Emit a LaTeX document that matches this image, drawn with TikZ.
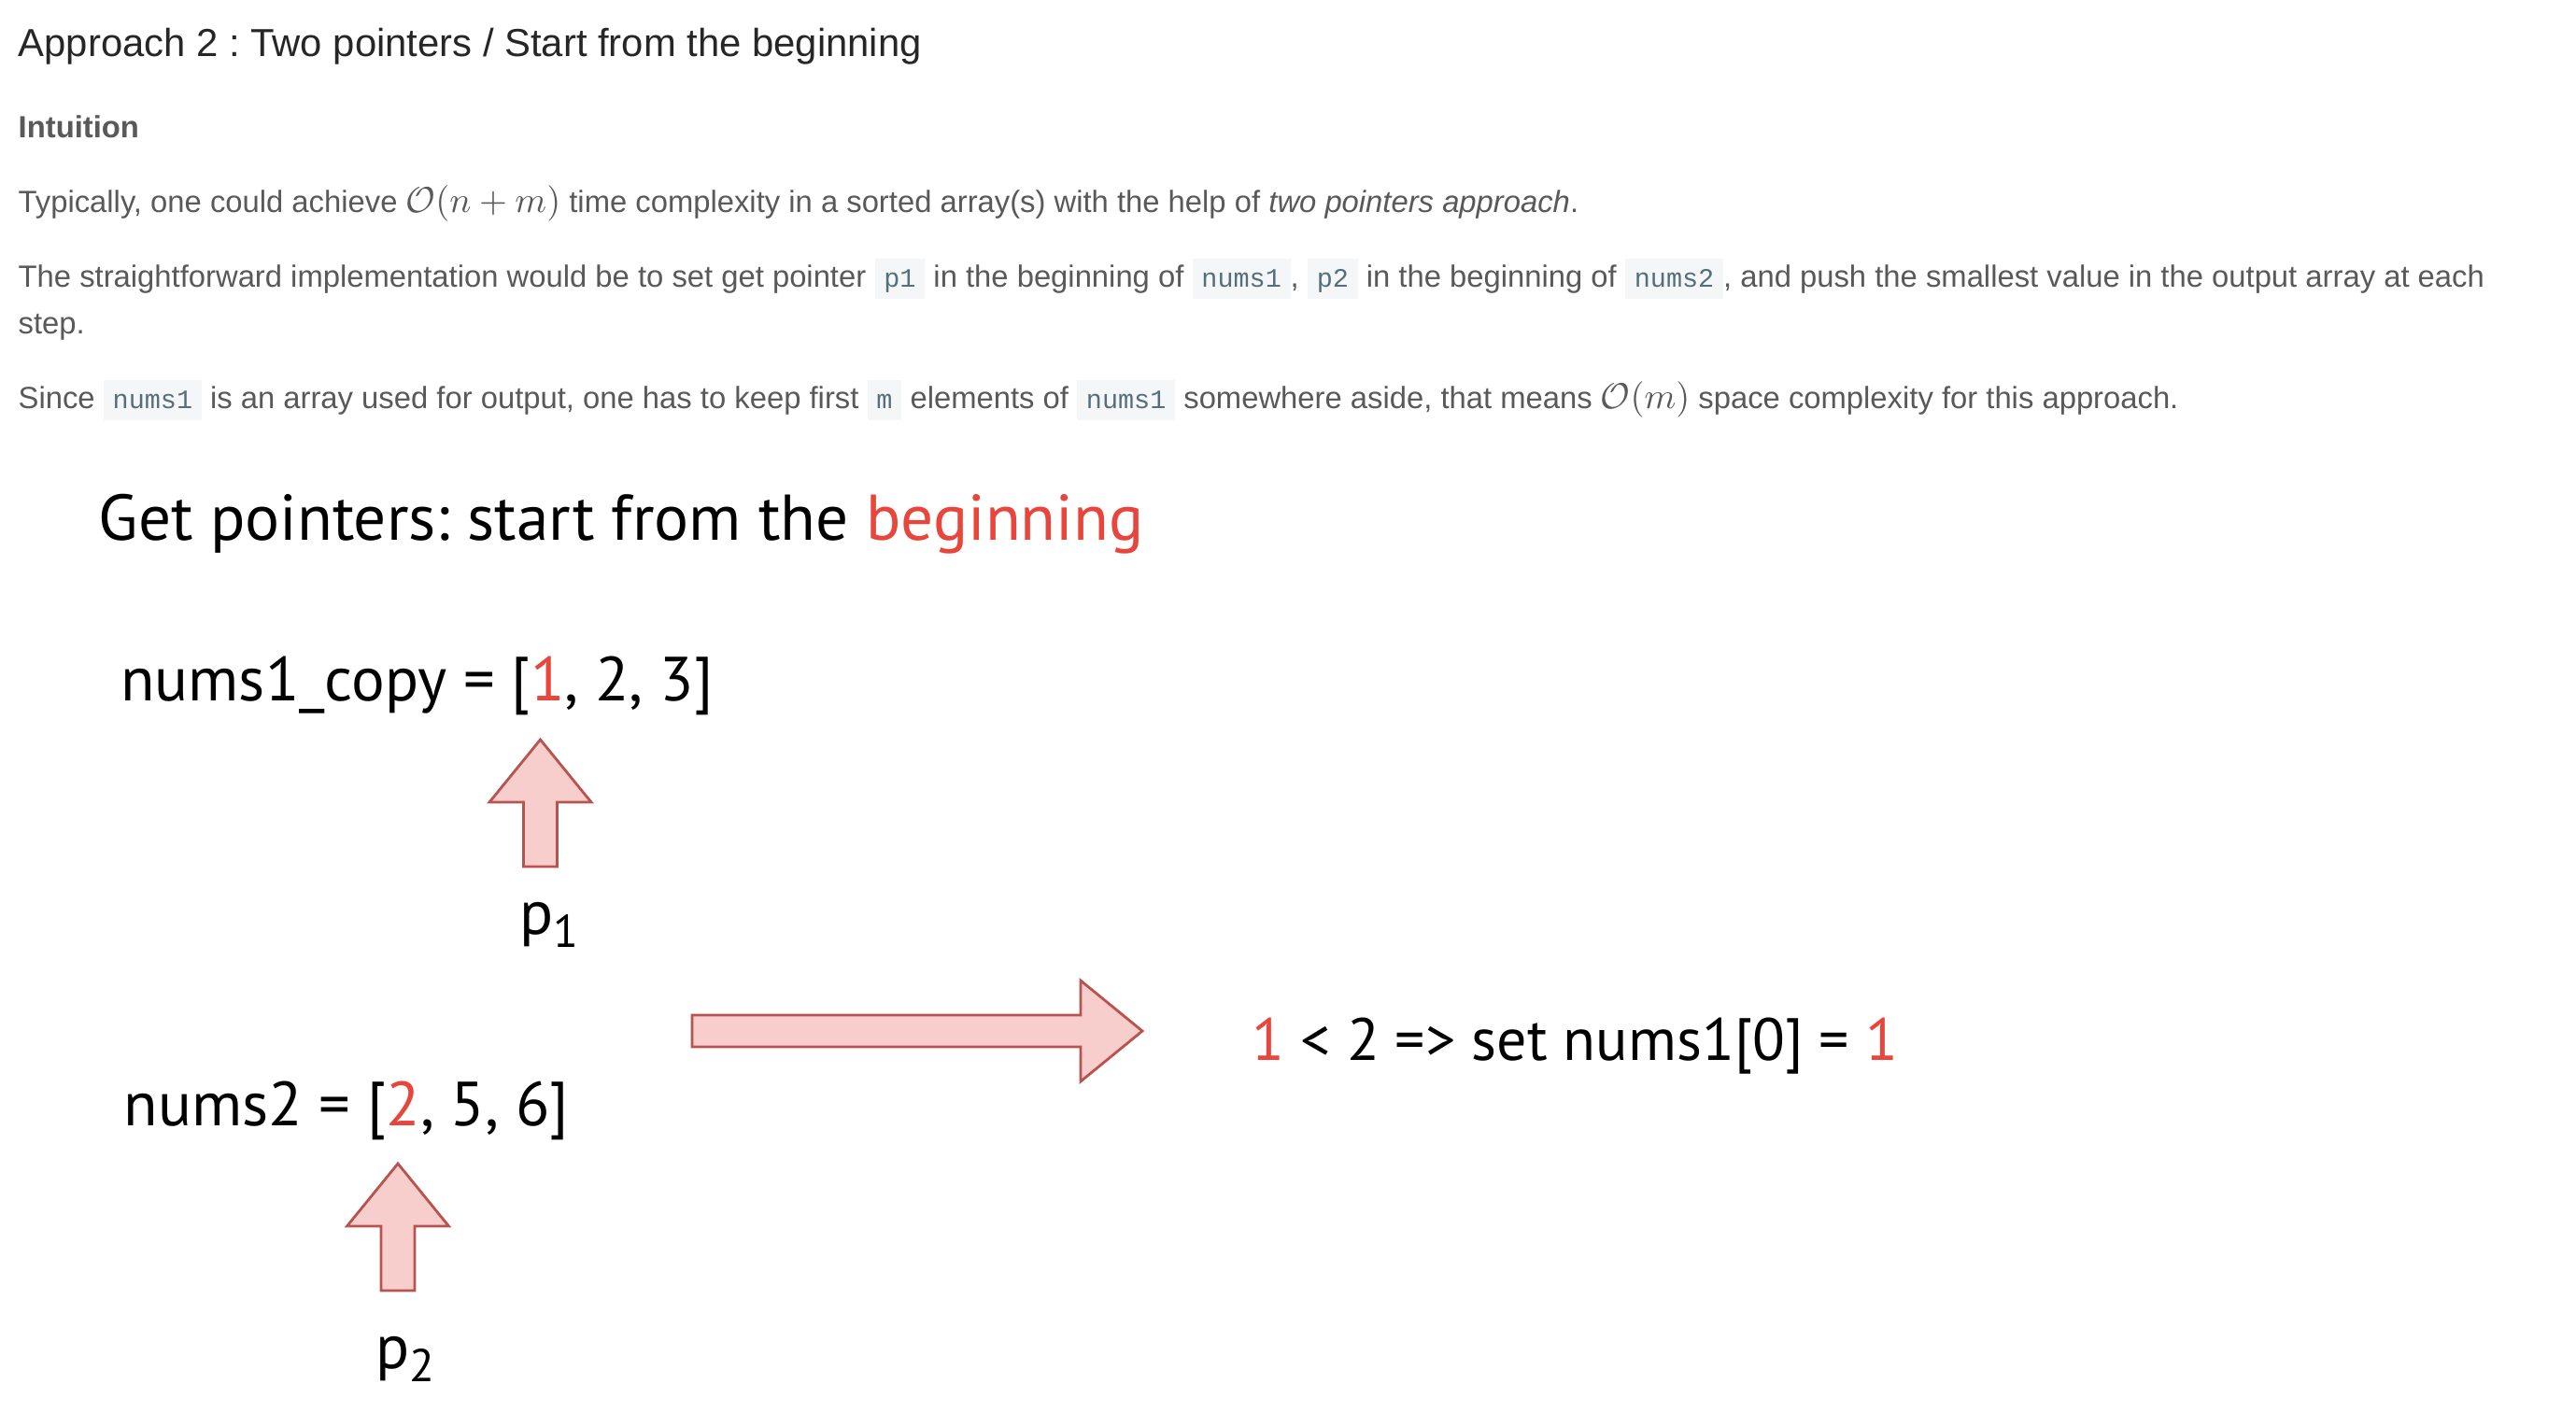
\documentclass[tikz,border=0pt]{standalone}
\usepackage{fontspec}
\usepackage{amsmath}
\setmainfont{Liberation Sans}
\setmonofont{Liberation Mono}
\newfontfamily\sketchfont{PT Sans}
\usetikzlibrary{positioning}
\definecolor{heading}{HTML}{262626}
\definecolor{bodytext}{HTML}{595959}
\definecolor{codebg}{HTML}{F4F6F8}
\definecolor{codetext}{HTML}{546E7A}
\definecolor{hilite}{HTML}{E8453C}
\definecolor{arrfill}{HTML}{F8CECC}
\definecolor{arredge}{HTML}{B85450}

% inline code chip
\newcommand{\code}[1]{{\setlength{\fboxsep}{0pt}\colorbox{codebg}{\rule[-3.7pt]{0pt}{12.2pt}\hspace{2.8pt}{\ttfamily\color{codetext}\fontsize{8.1}{9}\selectfont #1}\hspace{2.8pt}}}}
\newcommand{\bigO}[1]{{\fontsize{11.1}{13}\selectfont$\mathcal{O}(#1)$}}

\begin{document}
\frenchspacing
\begin{tikzpicture}[
  headtxt/.style={anchor=base west, inner sep=0pt, text=heading, font=\fontsize{11.9}{14}\selectfont},
  bodytxt/.style={anchor=base west, inner sep=0pt, text=bodytext, font=\fontsize{9.33}{11}\selectfont},
  sketch/.style={inner sep=0pt, text=black, font=\sketchfont\fontsize{19}{22}\selectfont},
  blockarr/.style={draw=arredge, fill=arrfill, line width=0.8pt, line join=miter},
  ptrarrow/.pic={\path[blockarr] (-0.18,0) -- (0.18,0) -- (0.18,0.69) -- (0.545,0.69) -- (0,1.36) -- (-0.545,0.69) -- (-0.18,0.69) -- cycle;},
  steparrow/.pic={\path[blockarr] (0,-0.17) -- (4.16,-0.17) -- (4.16,-0.54) -- (4.82,0) -- (4.16,0.54) -- (4.16,0.17) -- (0,0.17) -- cycle;}
]
\fill[white] (0,0) rectangle (27.58,-15.26);
\useasboundingbox (0,0) rectangle (27.58,-15.26);

% Article text
\node[headtxt] (title) at (0.19,-0.60) {Approach 2 : Two pointers / Start from the beginning};
\node[bodytxt, font=\bfseries\fontsize{9.33}{11}\selectfont] (intuition) at (0.19,-1.47) {Intuition};
\node[bodytxt] (para1) at (0.19,-2.27)
  {Typically, one could achieve \bigO{n+m} time complexity in a sorted array(s) with the help of \textit{two pointers approach}.};
\node[bodytxt] (para2) at (0.19,-3.07)
  {The straightforward implementation would be to set get pointer \code{p1} in the beginning of \code{nums1}, \code{p2} in the beginning of \code{nums2}, and push the smallest value in the output array at each};
\node[bodytxt] (para2b) at (0.19,-3.57) {step.};
\node[bodytxt] (para3) at (0.19,-4.37)
  {Since \code{nums1} is an array used for output, one has to keep first \code{m} elements of \code{nums1} somewhere aside, that means \bigO{m} space complexity for this approach.};

% Sketch
\node[sketch, anchor=base west, font=\sketchfont\fontsize{19.7}{22}\selectfont] (figtitle) at (1.05,-5.78) {Get pointers: start from the {\color{hilite}beginning}};
\node[sketch, anchor=base west] (copy) at (1.285,-7.50) {nums1\_copy = [{\color{hilite}1}, 2, 3]};
\node[sketch, anchor=base] (p1) at (5.88,-10.00) {p\lower4pt\hbox{\fontsize{14}{16}\selectfont 1}};
\node[sketch, anchor=base west, font=\sketchfont\fontsize{18.2}{22}\selectfont] (cmp) at (13.40,-11.35) {{\color{hilite}1} < 2 => set nums1[0] = {\color{hilite}1}};
\node[sketch, anchor=base west] (nums2) at (1.32,-12.05) {nums2 = [{\color{hilite}2}, 5, 6]};
\node[sketch, anchor=base] (p2) at (4.34,-14.65) {p\lower4pt\hbox{\fontsize{14}{16}\selectfont 2}};

% Pointer and step arrows
\pic (ptr1) at (5.785,-9.28) {ptrarrow};
\pic (ptr2) at (4.26,-13.82) {ptrarrow};
\pic (go) at (7.41,-11.04) {steparrow};
\end{tikzpicture}
\end{document}
